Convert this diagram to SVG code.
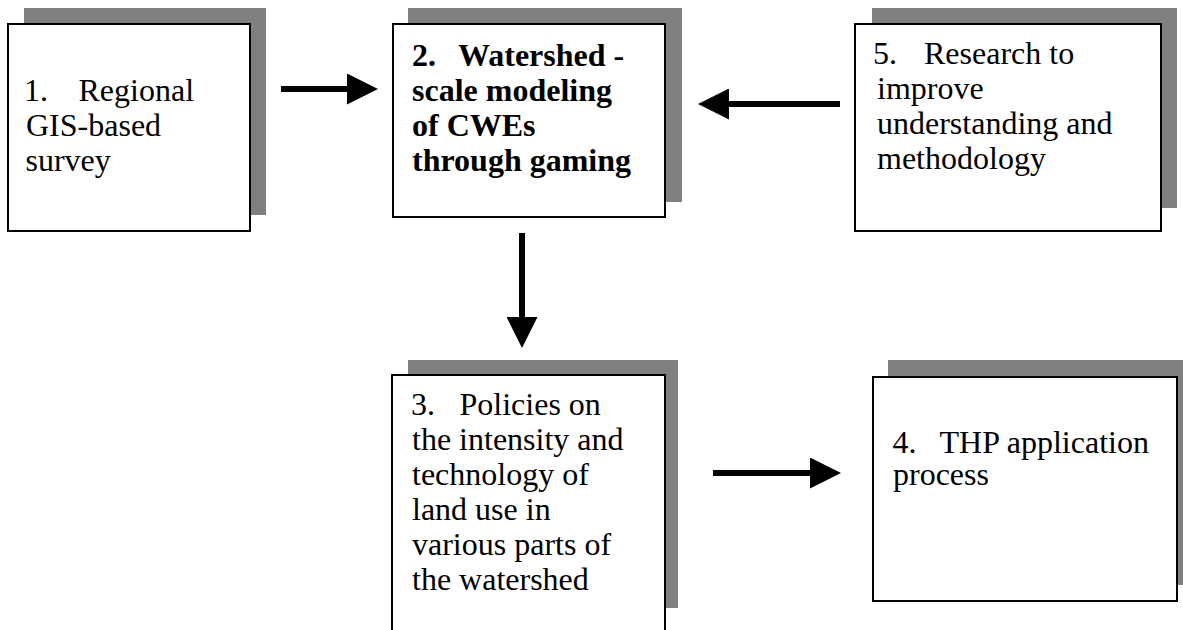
<svg xmlns="http://www.w3.org/2000/svg" width="1183" height="630" viewBox="0 0 1183 630">
  <style>
    .shadow { fill: #808080; stroke: none; }
    .box { fill: #ffffff; stroke: #000000; stroke-width: 2; }
    .t { font-family: "Liberation Serif", "Times New Roman", serif; font-size: 32px; fill: #000000; }
    .b { font-weight: bold; }
    .conn { stroke: #000000; stroke-width: 6; fill: none; marker-end: url(#head); }
  </style>
  <defs>
    <marker id="head" markerUnits="userSpaceOnUse" markerWidth="31" markerHeight="31" refX="0" refY="15.5" orient="auto" viewBox="0 0 31 31">
      <path d="M0,0 L31,15.5 L0,31 Z" fill="#000000"/>
    </marker>
  </defs>
  <rect width="1183" height="630" fill="#ffffff"/>

  <g id="connectors">
    <line class="conn" x1="281" y1="89" x2="347" y2="89"/>
    <line class="conn" x1="840" y1="104" x2="729" y2="104"/>
    <line class="conn" x1="522" y1="233" x2="522" y2="317"/>
    <line class="conn" x1="713" y1="473" x2="810" y2="473"/>
  </g>

  <g id="node1">
    <rect class="shadow" x="24" y="8" width="242" height="207"/>
    <rect class="box" x="8" y="24" width="242" height="207"/>
    <text class="t" y="101"><tspan x="24">1.</tspan><tspan x="78.5">Regional</tspan></text>
    <text class="t" x="26" y="136">GIS-based</text>
    <text class="t" x="25.5" y="171">survey</text>
  </g>

  <g id="node2">
    <rect class="shadow" x="408" y="8" width="274" height="194"/>
    <rect class="box" x="393" y="24" width="272" height="193"/>
    <text class="t b" y="66"><tspan x="412">2.</tspan><tspan x="458">Watershed -</tspan></text>
    <text class="t b" x="412" y="101">scale modeling</text>
    <text class="t b" x="412" y="136">of CWEs</text>
    <text class="t b" x="412" y="171">through gaming</text>
  </g>

  <g id="node5">
    <rect class="shadow" x="872" y="8" width="305" height="200"/>
    <rect class="box" x="855" y="24" width="306" height="207"/>
    <text class="t" y="64"><tspan x="873">5.</tspan><tspan x="924">Research to</tspan></text>
    <text class="t" x="877" y="99">improve</text>
    <text class="t" x="877" y="134">understanding and</text>
    <text class="t" x="877" y="169">methodology</text>
  </g>

  <g id="node3">
    <rect class="shadow" x="408" y="360" width="270" height="248"/>
    <rect class="box" x="392" y="375" width="273" height="270"/>
    <text class="t" y="415"><tspan x="411">3.</tspan><tspan x="459.5">Policies on</tspan></text>
    <text class="t" x="412" y="450">the intensity and</text>
    <text class="t" x="412" y="485">technology of</text>
    <text class="t" x="412" y="520">land use in</text>
    <text class="t" x="412" y="555">various parts of</text>
    <text class="t" x="412" y="590">the watershed</text>
  </g>

  <g id="node4">
    <rect class="shadow" x="888" y="360" width="295" height="225"/>
    <rect class="box" x="873" y="377" width="304" height="224"/>
    <text class="t" y="453"><tspan x="892.5">4.</tspan><tspan x="939.5">THP application</tspan></text>
    <text class="t" x="893" y="485">process</text>
  </g>
</svg>
